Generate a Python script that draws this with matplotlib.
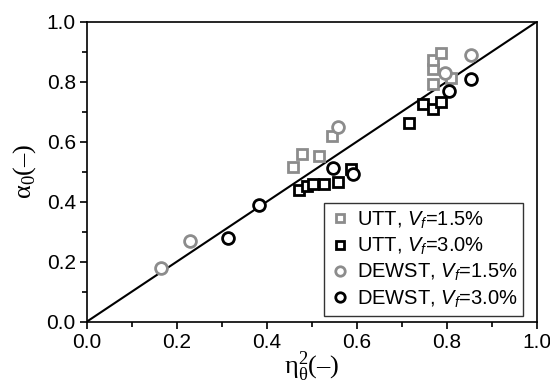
import numpy as np
import matplotlib
matplotlib.use("Agg")
import matplotlib.pyplot as plt
from matplotlib.ticker import MultipleLocator

plt.rcParams['font.family'] = ['Liberation Sans', 'DejaVu Sans']
plt.rcParams['mathtext.fontset'] = 'custom'
plt.rcParams['mathtext.it'] = 'Liberation Sans:italic'
plt.rcParams['mathtext.rm'] = 'Liberation Serif'

# UTT, Vf=1.5%
utt15_x = [0.458, 0.478, 0.515, 0.545, 0.769, 0.769, 0.769, 0.787, 0.809]
utt15_y = [0.517, 0.559, 0.552, 0.619, 0.792, 0.841, 0.872, 0.897, 0.811]
# UTT, Vf=3.0%
utt30_x = [0.471, 0.489, 0.502, 0.526, 0.559, 0.588, 0.717, 0.748, 0.769, 0.787]
utt30_y = [0.439, 0.453, 0.458, 0.459, 0.467, 0.509, 0.661, 0.726, 0.708, 0.733]
# DEWST, Vf=1.5%
dew15_x = [0.165, 0.229, 0.558, 0.795, 0.854]
dew15_y = [0.180, 0.270, 0.650, 0.828, 0.889]
# DEWST, Vf=3.0%
dew30_x = [0.314, 0.383, 0.547, 0.591, 0.804, 0.854]
dew30_y = [0.278, 0.389, 0.511, 0.491, 0.770, 0.808]

gray = '#8c8c8c'

fig = plt.figure(figsize=(5.5, 3.87), dpi=100)
ax = fig.add_axes([0.158, 0.169, 0.818, 0.775])

ax.plot([0, 1], [0, 1], color='black', lw=1.5, zorder=1)

ax.plot(utt15_x, utt15_y, 's', ms=7.5, mfc='white', mec=gray, mew=2,
        ls='none', label='UTT, $V_f$=1.5%')
ax.plot(utt30_x, utt30_y, 's', ms=7.5, mfc='white', mec='black', mew=2,
        ls='none', label='UTT, $V_f$=3.0%')
ax.plot(dew15_x, dew15_y, 'o', ms=8.5, mfc='white', mec=gray, mew=2,
        ls='none', label='DEWST, $V_f$=1.5%')
ax.plot(dew30_x, dew30_y, 'o', ms=8.5, mfc='white', mec='black', mew=2,
        ls='none', label='DEWST, $V_f$=3.0%')

ax.set_xlim(0, 1)
ax.set_ylim(0, 1)
ax.xaxis.set_major_locator(MultipleLocator(0.2))
ax.xaxis.set_minor_locator(MultipleLocator(0.1))
ax.yaxis.set_major_locator(MultipleLocator(0.2))
ax.yaxis.set_minor_locator(MultipleLocator(0.1))
ax.xaxis.set_major_formatter(plt.FuncFormatter(lambda v, p: '%.1f' % v))
ax.yaxis.set_major_formatter(plt.FuncFormatter(lambda v, p: '%.1f' % v))
ax.tick_params(which='both', direction='out', labelsize=15)
ax.tick_params(which='major', length=5, width=1.2, pad=3)
ax.tick_params(which='minor', length=3.5, width=1.2)
for s in ax.spines.values():
    s.set_linewidth(1.2)

ax.set_xlabel('$\\mathrm{\\eta}_{\\mathrm{\\theta}}^{\\mathrm{2}}$(–)', fontsize=19,
              family='Liberation Serif', labelpad=-2)
ax.set_ylabel('$\\mathrm{\\alpha}_{\\mathrm{0}}$(–)', fontsize=19,
              family='Liberation Serif', labelpad=6)

leg = ax.legend(loc='lower right', bbox_to_anchor=(0.97, 0.02), fontsize=14.5,
                frameon=True, fancybox=False, edgecolor='black',
                handletextpad=0.3, borderpad=0.3, labelspacing=0.25,
                handlelength=1.0, markerscale=0.8, borderaxespad=0)
leg.get_frame().set_linewidth(1.0)

plt.savefig('out.png', dpi=100)
